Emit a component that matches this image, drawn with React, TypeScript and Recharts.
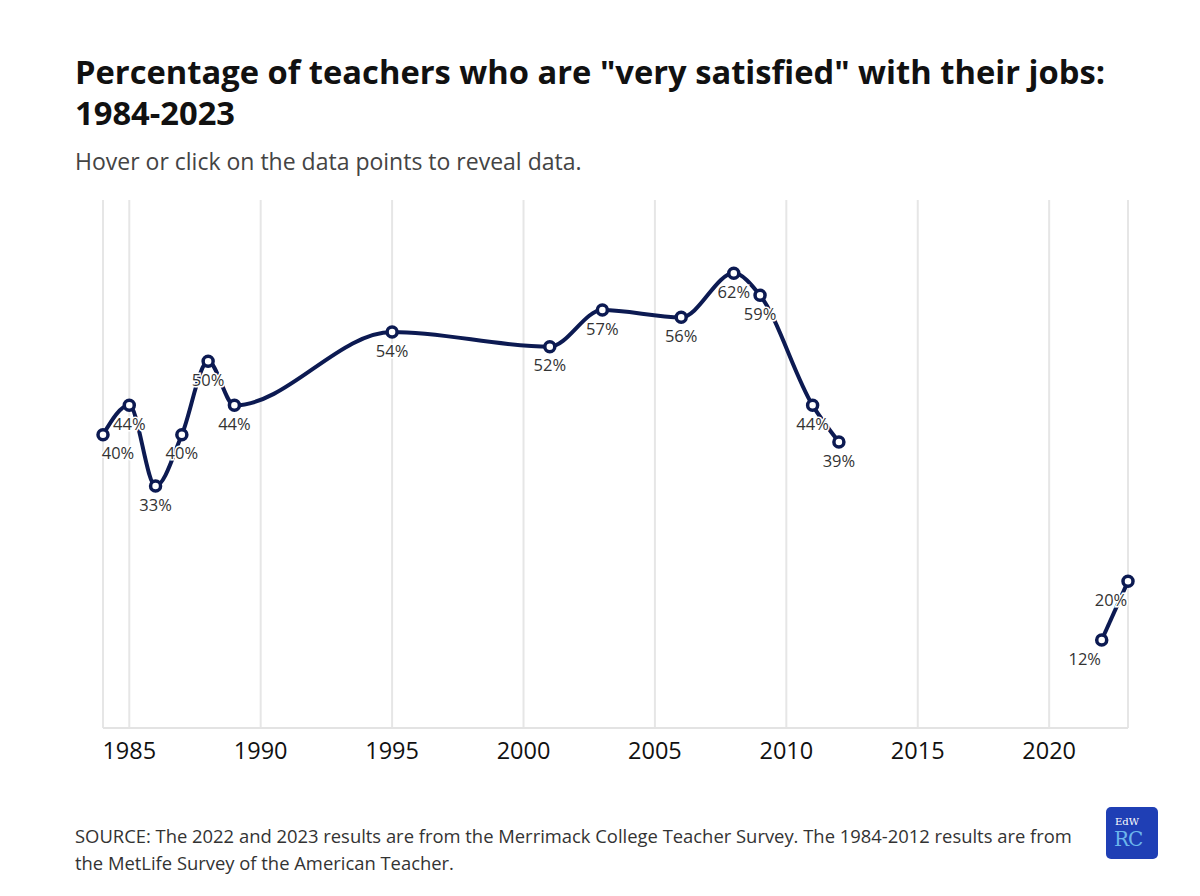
import React from "react";
import { LineChart, Line, XAxis, YAxis, CartesianGrid, LabelList } from "recharts";

const metlifeYears = [1984, 1985, 1986, 1987, 1988, 1989, 1995, 2001, 2003, 2006, 2008, 2009, 2011, 2012];
const metlifeValues = [40, 44, 33, 40, 50, 44, 54, 52, 57, 56, 62, 59, 44, 39];
const merrimackYears = [2022, 2023];
const merrimackValues = [12, 20];
const xTicks = [1985, 1990, 1995, 2000, 2005, 2010, 2015, 2020];

const seriesA = metlifeYears.map((year, i) => ({ year, v: metlifeValues[i] }));
const seriesB = merrimackYears.map((year, i) => ({ year, v: merrimackValues[i] }));

const FONT = "'Open Sans', 'Noto Sans', sans-serif";
const NAVY = "#0c1a52";

const makeLabel = (shift: (i: number) => number) => (props: any) => {
  const { x, y, value, index } = props;
  return (
    <text
      x={x + shift(index)}
      y={y + 18}
      textAnchor="middle"
      dominantBaseline="central"
      fontSize={16.5}
      fontFamily={FONT}
      fill="#333"
      stroke="#fff"
      strokeWidth={3}
      paintOrder="stroke"
    >
      {value}%
    </text>
  );
};

const dotStyle = { r: 5, fill: "#fff", stroke: NAVY, strokeWidth: 3.5 };

export default function App() {
  return (
    <div style={{ position: "relative", width: 1200, height: 896, margin: -8, background: "#fff", fontFamily: FONT }}>
      <div style={{ position: "absolute", left: 75, top: 51, width: 1090, fontSize: 32.7, fontWeight: 700, lineHeight: "41px", color: "#111" }}>
        Percentage of teachers who are "very satisfied" with their jobs: 1984-2023
      </div>
      <div style={{ position: "absolute", left: 75, top: 146, fontSize: 23, lineHeight: "30px", color: "#444" }}>
        Hover or click on the data points to reveal data.
      </div>
      <div style={{ position: "absolute", left: 0, top: 0 }}>
        <LineChart width={1200} height={896} margin={{ top: 200, right: 72, left: 103, bottom: 138 }}>
          <CartesianGrid horizontal={false} stroke="#e6e6e6" strokeWidth={2} />
          <XAxis
            type="number"
            dataKey="year"
            domain={[1984, 2023]}
            ticks={xTicks}
            tickLine={false}
            axisLine={{ stroke: "#e3e3e3", strokeWidth: 2 }}
            tick={{ fontSize: 23.5, fill: "#111", fontFamily: FONT }}
            tickMargin={8}
            height={30}
            allowDuplicatedCategory={false}
          />
          <YAxis type="number" domain={[0, 72]} hide width={0} />
          <Line
            data={seriesA}
            dataKey="v"
            type="monotone"
            stroke={NAVY}
            strokeWidth={4}
            dot={dotStyle}
            activeDot={false}
            isAnimationActive={false}
          >
            <LabelList dataKey="v" content={makeLabel((i) => (i === 0 ? 15 : 0))} />
          </Line>
          <Line
            data={seriesB}
            dataKey="v"
            type="monotone"
            stroke={NAVY}
            strokeWidth={4}
            dot={dotStyle}
            activeDot={false}
            isAnimationActive={false}
          >
            <LabelList dataKey="v" content={makeLabel(() => -17)} />
          </Line>
        </LineChart>
      </div>
      <div style={{ position: "absolute", left: 75, top: 822, width: 1020, fontSize: 18.4, lineHeight: "27px", color: "#333" }}>
        SOURCE: The 2022 and 2023 results are from the Merrimack College Teacher Survey. The 1984-2012 results are from the MetLife Survey of the American Teacher.
      </div>
      <div style={{ position: "absolute", left: 1106, top: 807, width: 52, height: 52, borderRadius: 5, background: "#1f3fb5", fontFamily: "'DejaVu Serif', serif" }}>
        <div style={{ position: "absolute", left: 9, top: 9, fontSize: 10, lineHeight: "11px", color: "#fff" }}>EdW</div>
        <div style={{ position: "absolute", left: 8, top: 22, fontSize: 20, lineHeight: "21px", color: "#6cb6ec", letterSpacing: -1 }}>RC</div>
      </div>
    </div>
  );
}
